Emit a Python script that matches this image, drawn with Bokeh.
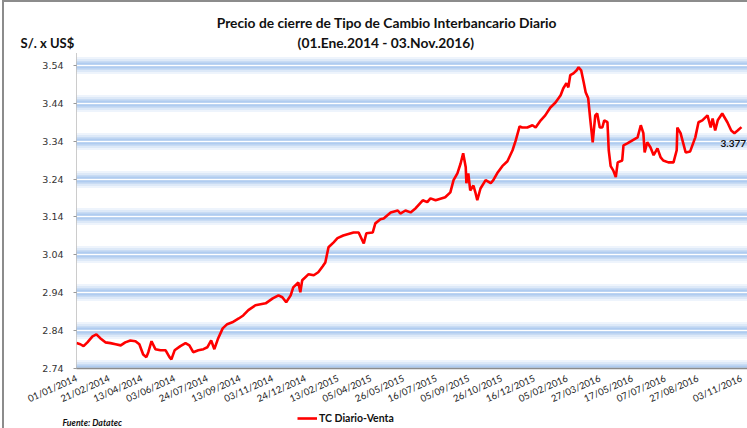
from datetime import datetime, timedelta
import pandas as pd
from bokeh.plotting import figure
from bokeh.layouts import column, row
from bokeh.models import (FixedTicker, Label, Legend, LegendItem, Range1d,
                          NumeralTickFormatter)
from bokeh.embed import file_html
from bokeh.resources import INLINE

title_line1 = "Precio de cierre de Tipo de Cambio Interbancario  Diario"
title_line2 = "(01.Ene.2014  - 03.Nov.2016)"
y_unit = "S/. x US$"
source_note = "Fuente: Datatec"
series_name = "TC Diario-Venta"
last_label = "3.377"

x_tick_labels = ["01/01/2014", "21/02/2014", "13/04/2014", "03/06/2014", "24/07/2014",
                 "13/09/2014", "03/11/2014", "24/12/2014", "13/02/2015", "05/04/2015",
                 "26/05/2015", "16/07/2015", "05/09/2015", "26/10/2015", "16/12/2015",
                 "05/02/2016", "27/03/2016", "17/05/2016", "07/07/2016", "27/08/2016",
                 "03/11/2016"]
y_ticks = [2.74, 2.84, 2.94, 3.04, 3.14, 3.24, 3.34, 3.44, 3.54]

dates = [
    "2014-01-01", "2014-01-07", "2014-01-12", "2014-01-18", "2014-01-26", "2014-02-01",
    "2014-02-07", "2014-02-15", "2014-02-23", "2014-03-03", "2014-03-11", "2014-03-18",
    "2014-03-26", "2014-04-03", "2014-04-09", "2014-04-15", "2014-04-20", "2014-04-23",
    "2014-04-28", "2014-05-04", "2014-05-12", "2014-05-20", "2014-05-26", "2014-05-29",
    "2014-06-03", "2014-06-12", "2014-06-20", "2014-06-26", "2014-07-02", "2014-07-10",
    "2014-07-18", "2014-07-24", "2014-07-30", "2014-08-04", "2014-08-10", "2014-08-17",
    "2014-08-24", "2014-09-01", "2014-09-11", "2014-09-18", "2014-09-26", "2014-10-07",
    "2014-10-23", "2014-11-03", "2014-11-12", "2014-11-18", "2014-11-24", "2014-12-01",
    "2014-12-05", "2014-12-13", "2014-12-16", "2014-12-19", "2014-12-29",
    "2015-01-06", "2015-01-13", "2015-01-20", "2015-01-24", "2015-01-29", "2015-02-06",
    "2015-02-12", "2015-02-21", "2015-03-09", "2015-03-17", "2015-03-25", "2015-03-29",
    "2015-04-08", "2015-04-12", "2015-04-20", "2015-04-25", "2015-05-06", "2015-05-17",
    "2015-05-21", "2015-05-29", "2015-06-06", "2015-06-14", "2015-06-25", "2015-07-02",
    "2015-07-07", "2015-07-15", "2015-07-30", "2015-08-07", "2015-08-12", "2015-08-18",
    "2015-08-23", "2015-08-27", "2015-08-31", "2015-09-01", "2015-09-04", "2015-09-07",
    "2015-09-12", "2015-09-15", "2015-09-18", "2015-09-23", "2015-10-01", "2015-10-09",
    "2015-10-13", "2015-10-19", "2015-10-27", "2015-11-04", "2015-11-12", "2015-11-17",
    "2015-11-23", "2015-11-27", "2015-12-05", "2015-12-13", "2015-12-18", "2015-12-26",
    "2016-01-02", "2016-01-10", "2016-01-18", "2016-01-26", "2016-01-30", "2016-02-04",
    "2016-02-07", "2016-02-10", "2016-02-15", "2016-02-20", "2016-02-23", "2016-02-27",
    "2016-03-02", "2016-03-05", "2016-03-09", "2016-03-12", "2016-03-16", "2016-03-20",
    "2016-03-23", "2016-03-27", "2016-03-31", "2016-04-03", "2016-04-08", "2016-04-10",
    "2016-04-13", "2016-04-17", "2016-04-21", "2016-04-24", "2016-05-01", "2016-05-03",
    "2016-05-09", "2016-05-17", "2016-05-25", "2016-05-30", "2016-06-03", "2016-06-05",
    "2016-06-09", "2016-06-14", "2016-06-19", "2016-06-25", "2016-06-30", "2016-07-04",
    "2016-07-12", "2016-07-20", "2016-07-25", "2016-07-26", "2016-07-31", "2016-08-08",
    "2016-08-15", "2016-08-23", "2016-08-28", "2016-09-03", "2016-09-11", "2016-09-16",
    "2016-09-19", "2016-09-23", "2016-09-27", "2016-10-04", "2016-10-12", "2016-10-18",
    "2016-10-23", "2016-10-28", "2016-11-03"]

tc_venta = [
    2.807, 2.804, 2.799, 2.809, 2.825, 2.830, 2.820, 2.809, 2.807, 2.804, 2.801, 2.809,
    2.814, 2.812, 2.804, 2.777, 2.770, 2.783, 2.812, 2.791, 2.788, 2.788, 2.770, 2.764,
    2.788, 2.799, 2.807, 2.801, 2.783, 2.788, 2.791, 2.796, 2.814, 2.791, 2.820, 2.846,
    2.857, 2.862, 2.872, 2.880, 2.894, 2.907, 2.912, 2.925, 2.933, 2.928, 2.915, 2.933,
    2.954, 2.967, 2.941, 2.973, 2.989,
    2.986, 2.994, 3.010, 3.020, 3.060, 3.073, 3.084, 3.091, 3.099, 3.099, 3.070, 3.097,
    3.099, 3.123, 3.134, 3.136, 3.152, 3.157, 3.149, 3.157, 3.152, 3.163, 3.184, 3.179,
    3.189, 3.184, 3.192, 3.205, 3.237, 3.255, 3.281, 3.308, 3.271, 3.229, 3.255, 3.210,
    3.223, 3.205, 3.184, 3.215, 3.237, 3.229, 3.237, 3.255, 3.274, 3.287, 3.316, 3.342,
    3.379, 3.376, 3.376, 3.382, 3.376, 3.395,
    3.408, 3.429, 3.442, 3.461, 3.479, 3.493, 3.482, 3.514, 3.519, 3.527, 3.535, 3.527,
    3.495, 3.469, 3.453, 3.400, 3.337, 3.408, 3.413, 3.376, 3.376, 3.395, 3.390, 3.316,
    3.274, 3.263, 3.245, 3.284, 3.289, 3.329, 3.334, 3.342, 3.350, 3.382, 3.361, 3.310,
    3.337, 3.324, 3.303, 3.321, 3.297, 3.289, 3.284, 3.284, 3.316, 3.376, 3.361, 3.310,
    3.313, 3.350, 3.390, 3.395, 3.408, 3.376, 3.400, 3.368, 3.395, 3.413, 3.390, 3.368,
    3.361, 3.368, 3.377]

FONT = "Lato"
TXT = "#111111"
W = 743
x = pd.to_datetime(dates)
tick_dt = [datetime.strptime(s, "%d/%m/%Y") for s in x_tick_labels]
tick_ms = [(d - datetime(1970, 1, 1)).total_seconds() * 1000.0 for d in tick_dt]


def text_panel(height):
    f = figure(width=W, height=height, output_backend="svg", toolbar_location=None,
               x_range=Range1d(0, 1), y_range=Range1d(0, 1),
               x_axis_location=None, y_axis_location=None,
               min_border=0, min_border_left=0, min_border_right=0,
               min_border_top=0, min_border_bottom=0)
    f.outline_line_color = None
    f.xgrid.visible = False
    f.ygrid.visible = False
    return f


def label(fig, **kw):
    base = dict(text_font=FONT, text_color=TXT, text_baseline="middle")
    base.update(kw)
    fig.add_layout(Label(**base))


# ---------- header ----------
head = text_panel(50)
label(head, x=384, y=30, x_units="screen", y_units="screen", text=title_line1,
      text_font_style="bold", text_font_size="13.8px", text_align="center")
label(head, x=383, y=10, x_units="screen", y_units="screen", text=title_line2,
      text_font_style="bold", text_font_size="13.8px", text_align="center")
label(head, x=16, y=10, x_units="screen", y_units="screen", text=y_unit,
      text_font_style="bold", text_font_size="13px", text_align="left")

# ---------- main chart ----------
p = figure(width=W, height=360, x_axis_type="datetime",
           output_backend="svg", toolbar_location=None,
           x_range=Range1d(tick_dt[0], tick_dt[-1] + timedelta(days=9.4)),
           y_range=Range1d(2.74, 3.574),
           min_border_left=72, min_border_right=0,
           min_border_top=0, min_border_bottom=44)
p.outline_line_color = None
p.xgrid.visible = False
p.ygrid.visible = False

for lw, col in [(17, "#eef4fc"), (13, "#dde9f8"), (9, "#c9dcf4"), (6, "#b3cef0"), (3.5, "#a6c6ee")]:
    p.hspan(y=y_ticks, line_width=lw, line_color=col)
p.hspan(y=y_ticks, line_width=1.3, line_color="white")

p.line(x, tc_venta, line_color="#ff0000", line_width=2.6)

xa = p.xaxis[0]
xa.ticker = FixedTicker(ticks=tick_ms)
xa.major_label_overrides = {t: s for t, s in zip(tick_ms, x_tick_labels)}
xa.major_label_orientation = 0.42
xa.major_label_text_font = FONT
xa.major_label_text_font_size = "9.5px"
xa.major_label_text_color = "#222222"
xa.major_tick_line_color = None
xa.minor_tick_line_color = None
xa.axis_line_color = "#8c8c8c"
xa.axis_line_width = 1.5
xa.major_label_standoff = 3

ya = p.yaxis[0]
ya.ticker = FixedTicker(ticks=y_ticks)
ya.formatter = NumeralTickFormatter(format="0.00")
ya.major_label_text_font = "DejaVu Sans"
ya.major_label_text_font_size = "9.5px"
ya.major_label_text_color = "#333333"
ya.axis_line_color = "#999999"
ya.axis_line_dash = "1 1"
ya.major_tick_out = 3
ya.major_tick_in = 0
ya.major_tick_line_color = "#999999"
ya.minor_tick_line_color = None
ya.major_label_standoff = 10

label(p, x=x[-1], y=tc_venta[-1], x_offset=-21, y_offset=-16, text=last_label,
      text_font_style="bold", text_font_size="10px", text_align="left")

# ---------- footer (legend + source) ----------
foot = text_panel(16)
r_leg = foot.line(x, tc_venta, line_color="#ff0000", line_width=2.6)
legend = Legend(items=[LegendItem(label=series_name, renderers=[r_leg])],
                location=(293, 4), label_text_font=FONT, label_text_font_style="bold",
                label_text_font_size="10.5px", label_text_color=TXT,
                glyph_width=20, glyph_height=10, padding=0, margin=0,
                border_line_color=None, background_fill_alpha=0, label_standoff=2,
                label_height=12)
foot.add_layout(legend)
label(foot, x=58, y=6, x_units="screen", y_units="screen", text=source_note,
      text_font_style="bold italic", text_font_size="8.8px", text_align="left")

layout = column(row(head), p, row(foot), spacing=0,
                styles={"border-left": "2px solid #8c8c8c",
                        "border-top": "2px solid #8c8c8c",
                        "margin-left": "2px"})

open("out.html", "w").write(file_html(layout, INLINE))
